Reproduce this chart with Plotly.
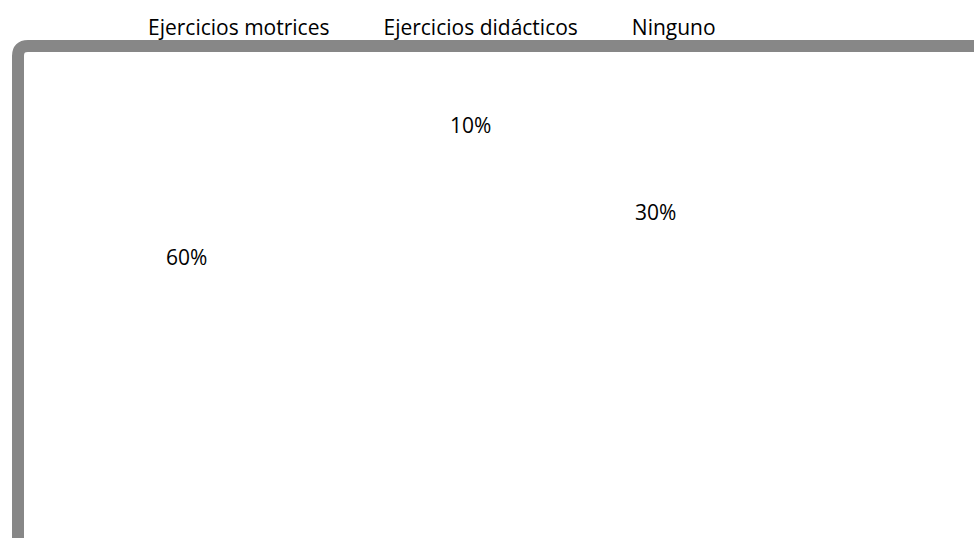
import plotly.graph_objects as go

categories = ["Ejercicios motrices", "Ejercicios didácticos", "Ninguno"]
values = [60, 10, 30]

# label anchor positions (pixels in the page) for each category
label_px = [(186, 257), (470, 125), (655, 212)]

W, H = 974, 538
FONT = "Open Sans"


def px_x(x):
    return x / W


def px_y(y):
    return 1 - y / H


fig = go.Figure()
fig.add_trace(go.Pie(
    labels=categories,
    values=values,
    sort=False,
    direction="clockwise",
    marker=dict(colors=["white"] * len(values), line=dict(color="white", width=0)),
    textinfo="none",
    hoverinfo="label+percent",
    domain=dict(x=[0.2, 0.8], y=[0.1, 0.8]),
    showlegend=True,
))

total = sum(values)
annotations = []
for v, (px, py) in zip(values, label_px):
    annotations.append(dict(
        x=px_x(px), y=px_y(py), xref="paper", yref="paper",
        text=f"{round(v / total * 100)}%", showarrow=False,
        font=dict(family=FONT, size=21, color="#000000"),
        xanchor="center", yanchor="middle",
    ))

# frame: thick gray line with rounded top-left corner
x0 = px_x(18)
y0 = px_y(46)
rx = 10 / W
ry = 10 / H
path = f"M {x0},-0.1 L {x0},{y0 - ry} Q {x0},{y0} {x0 + rx},{y0} L 1.1,{y0}"

fig.update_layout(
    width=W, height=H,
    margin=dict(l=0, r=0, t=0, b=0),
    paper_bgcolor="white",
    plot_bgcolor="white",
    font=dict(family=FONT, size=21, color="#000000"),
    legend=dict(
        orientation="h",
        x=px_x(99), y=px_y(7), xanchor="left", yanchor="top",
        font=dict(family=FONT, size=21, color="#000000"),
        bgcolor="rgba(0,0,0,0)",
        traceorder="normal",
        itemwidth=39,
    ),
    annotations=annotations,
    shapes=[dict(
        type="path", xref="paper", yref="paper", path=path,
        line=dict(color="#878787", width=12),
    )],
)

fig.write_html(
    "out.html",
    config={"displayModeBar": False},
    post_script="document.body.style.margin='0';document.body.style.overflow='hidden';",
)
